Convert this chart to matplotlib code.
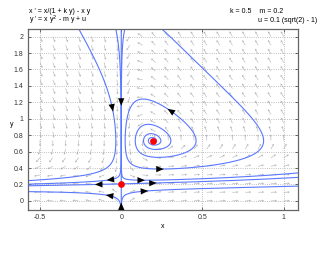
"""Phase portrait of x' = x/(1+ky) - xy, y' = xy^2 - my + u (pplane style)."""

import numpy as np
import matplotlib
matplotlib.use("Agg")
import matplotlib.pyplot as plt

plt.rcParams["font.family"] = ["Liberation Sans", "DejaVu Sans"]
plt.rcParams["axes.unicode_minus"] = False

# Parameters shown on the chart
K = 0.5
M = 0.2
U = 0.1 * (np.sqrt(2) - 1)

# Display window
XLIM = (-0.575, 1.085)
YLIM = (-0.11, 2.09)
X_TICKS = [-0.5, 0, 0.5, 1]
Y_TICKS = [0, 0.2, 0.4, 0.6, 0.8, 1, 1.2, 1.4, 1.6, 1.8, 2]

# Direction-field grid
FIELD_X = np.linspace(-0.5, 1.0, 20)
FIELD_Y = np.linspace(0.0, 2.0, 20)

# Points the drawn orbits pass through
ORBIT_POINTS = [
    (-0.26, 2.09),
    (-0.033, 2.09),
    (-0.575, 0.113),
    (1.085, 0.34),
    (1.085, 0.18),
    (0.46, 0.75),
]

# Equilibria (red dots)
EQ_X = [0.0, 0.196]
EQ_Y = [0.207, 0.732]

# Approximate places of the arrowheads on the orbits
ARROW_X = [-0.05, 0.0, 0.28, 0.26, -0.09, -0.16, -0.09, 0.145, 0.217, 0.165, 0.0]
ARROW_Y = [1.09, 1.16, 1.11, 0.41, 0.256, 0.183, 0.094, 0.256, 0.195, 0.11, -0.02]


def field(x, y):
    fx = x / (1 + K * y) - x * y
    fy = x * y**2 - M * y + U
    return fx, fy


def integrate(p0, sign=1.0, t_max=150.0, dt=0.004):
    x, y = p0
    xs, ys = [x], [y]
    mx = 0.02 * (XLIM[1] - XLIM[0])
    my = 0.02 * (YLIM[1] - YLIM[0])

    def f(x, y):
        a, b = field(x, y)
        return sign * a, sign * b

    for _ in range(int(t_max / dt)):
        k1 = f(x, y)
        k2 = f(x + dt / 2 * k1[0], y + dt / 2 * k1[1])
        k3 = f(x + dt / 2 * k2[0], y + dt / 2 * k2[1])
        k4 = f(x + dt * k3[0], y + dt * k3[1])
        x += dt / 6 * (k1[0] + 2 * k2[0] + 2 * k3[0] + k4[0])
        y += dt / 6 * (k1[1] + 2 * k2[1] + 2 * k3[1] + k4[1])
        xs.append(x)
        ys.append(y)
        if not (XLIM[0] - mx < x < XLIM[1] + mx and YLIM[0] - my < y < YLIM[1] + my):
            break
        if np.hypot(*k1) < 1e-7:
            break
    return np.array(xs), np.array(ys)


def orbit_through(p0):
    bx, by = integrate(p0, -1.0)
    fx, fy = integrate(p0, 1.0)
    return np.concatenate([bx[::-1], fx[1:]]), np.concatenate([by[::-1], fy[1:]])


orbits = [orbit_through(p) for p in ORBIT_POINTS]

# saddle separatrices
sx, sy = EQ_X[0], EQ_Y[0]
orbits.append(integrate((0.0, YLIM[1])))
orbits.append(integrate((0.0, YLIM[0])))
lam = 1 / (1 + K * sy) - sy
v = np.array([1.0, (sy**2) / (lam + M)])
v /= np.hypot(*v)
orbits.append(integrate((sx + 1e-5 * v[0], sy + 1e-5 * v[1])))
orbits.append(integrate((sx - 1e-5 * v[0], sy - 1e-5 * v[1])))

fig = plt.figure(figsize=(3.27, 2.73), dpi=100)
ax = fig.add_axes([0.085, 0.231, 0.825, 0.662])

# direction field
GX, GY = np.meshgrid(FIELD_X, FIELD_Y)
FU, FV = field(GX, GY)
su = FU / (XLIM[1] - XLIM[0])
sv = FV / (YLIM[1] - YLIM[0])
n = np.hypot(su, sv)
n[n == 0] = 1
ax.quiver(GX, GY, su / n, sv / n, angles="uv", units="dots", scale_units="dots",
          scale=1 / 6.0, width=0.6, headwidth=4, headlength=3.5, headaxislength=3,
          color="#b4b4b4", zorder=1)

for ox, oy in orbits:
    ax.plot(ox, oy, color="#5a78ff", lw=0.8, zorder=2)

# arrowheads on orbits
for hx, hy in zip(ARROW_X, ARROW_Y):
    best = None
    for ox, oy in orbits:
        d = (ox - hx) ** 2 + ((oy - hy) * 0.75) ** 2
        i = int(np.argmin(d))
        if best is None or d[i] < best[0]:
            best = (d[i], ox, oy, i)
    _, ox, oy, i = best
    i = min(max(i, 3), len(ox) - 4)
    ax.annotate("", xy=(ox[i + 3], oy[i + 3]), xytext=(ox[i - 3], oy[i - 3]),
                arrowprops=dict(arrowstyle="-|>,head_length=0.6,head_width=0.25",
                                mutation_scale=9, color="black", lw=0.01,
                                shrinkA=0, shrinkB=0),
                zorder=4)

ax.plot(EQ_X, EQ_Y, "o", color="red", ms=3.8, mec="red", zorder=5)

ax.set_xlim(*XLIM)
ax.set_ylim(*YLIM)
ax.set_xticks(X_TICKS)
ax.set_xticklabels(["-0.5", "0", "0.5", "1"])
ax.set_yticks(Y_TICKS)
ax.set_yticklabels(["0", "0.2", "0.4", "0.6", "0.8", "1", "1.2", "1.4", "1.6", "1.8", "2"])
ax.tick_params(direction="in", length=2.5, width=0.5, labelsize=5, colors="#333333",
               top=True, right=True, pad=3)
ax.grid(True, linestyle=":", color="#aaaaaa", lw=0.6)
for s in ax.spines.values():
    s.set_color("#666666")
    s.set_linewidth(0.9)
ax.set_xlabel("x", fontsize=5)
ax.set_ylabel("y", fontsize=5, rotation=0)
ax.xaxis.set_label_coords(0.5, -0.072)
ax.yaxis.set_label_coords(-0.059, 0.454)

fig.text(0.088, 0.958, "x ' = x/(1 + k y) - x y", fontsize=5, va="center")
fig.text(0.088, 0.925, r"y ' = x y$^2$ - m y + u", fontsize=5, va="center")
fig.text(0.703, 0.958, "k = 0.5    m = 0.2", fontsize=5, va="center")
fig.text(0.79, 0.925, "u = 0.1 (sqrt(2) - 1)", fontsize=5, va="center")

fig.savefig("out.png", dpi=100)
